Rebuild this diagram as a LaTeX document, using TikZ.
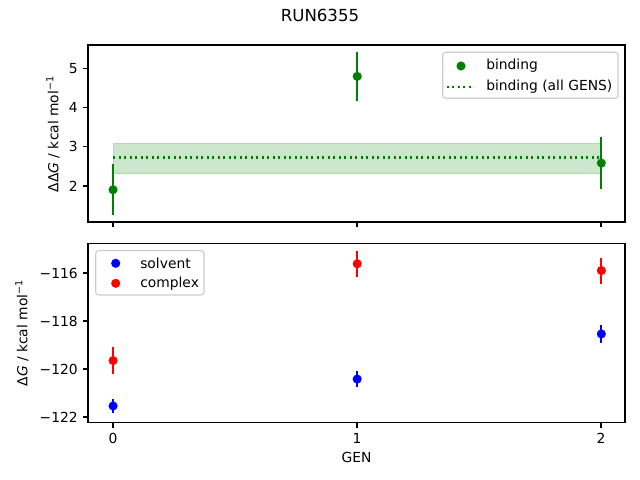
\documentclass[tikz,border=0pt]{standalone}
\usepackage{fontspec}
\setmainfont{DejaVu Sans}
\definecolor{mplgreen}{RGB}{0,128,0}
\definecolor{mplblue}{RGB}{0,0,255}
\definecolor{mplred}{RGB}{255,0,0}
\definecolor{bandfill}{RGB}{204,230,204}
\definecolor{bandedge}{RGB}{178,216,178}
\definecolor{legendedge}{RGB}{204,204,204}
\tikzset{
  axisframe/.style={line width=0.8pt},
  tickmark/.style={line width=0.8pt},
  ticklabel/.style={inner sep=0pt,font=\fontsize{10}{12}\selectfont},
  errbar/.style={line width=1.5pt},
  dotline/.style={line width=1.5pt,dash pattern=on 1.5pt off 2.475pt},
  legendbox/.style={draw=legendedge,fill=white,rounded corners=2pt,line width=0.8pt},
}
\begin{document}
\begin{tikzpicture}[x=0.01in,y=0.01in]
                \useasboundingbox (0,0) rectangle (640,480);
                \node (title) at (320,465) {\fontsize{12}{14}\selectfont RUN6355};
                % top panel
                \begin{scope}[xshift=1.13in,yshift=2.156in,x=2.44in,y=0.392in]
                    \fill[bandfill] (0,2.324) rectangle (2,3.089);
                    \draw[bandedge,line width=0.6pt] (0,2.324) rectangle (2,3.089);
                    \draw[mplgreen,dotline] (0,2.722) -- (2,2.722);
                    \foreach \g/\v/\e in {0/1.90/0.65,1/4.79/0.62,2/2.58/0.66}{
                        \draw[mplgreen,errbar] (\g,\v-\e) -- (\g,\v+\e);
                        \fill[mplgreen] (\g,\v) circle[radius=3.3pt];
                    }
                \end{scope}
                \draw[axisframe] (88,258) rectangle (625,435);
                \foreach \v in {2,3,4,5}{
                    \draw[tickmark] (88,{215.6+39.2*\v}) -- ++(-4.86,0) node[ticklabel,anchor=east,xshift=-3.5pt] {\v};
                }
                \foreach \x in {113,357,601}{
                    \draw[tickmark] (\x,258) -- ++(0,-4.86);
                }
                \node[rotate=90,font=\fontsize{10}{12}\selectfont] (ddglabel) at (53,346) {ΔΔ\textit{G} / kcal mol\textsuperscript{−1}};
                \draw[legendbox] (442.7,381.7) rectangle (618,427.7);
                \fill[mplgreen] (461,414) circle[radius=3.3pt];
                \node[ticklabel,anchor=west] (bindlabel) at (486,414) {binding};
                \draw[mplgreen,dotline] (446.7,393.3) -- (474,393.3);
                \node[ticklabel,anchor=west] (alllabel) at (486,393.3) {binding (all GENS)};
                % bottom panel
                \begin{scope}[xshift=1.13in,yshift=29.91in,x=2.44in,y=0.24in]
                    \foreach \g/\v/\e in {0/-121.54/0.29,1/-120.42/0.33,2/-118.54/0.37}{
                        \draw[mplblue,errbar] (\g,\v-\e) -- (\g,\v+\e);
                        \fill[mplblue] (\g,\v) circle[radius=3.3pt];
                    }
                    \foreach \g/\v/\e in {0/-119.65/0.56,1/-115.62/0.54,2/-115.90/0.54}{
                        \draw[mplred,errbar] (\g,\v-\e) -- (\g,\v+\e);
                        \fill[mplred] (\g,\v) circle[radius=3.3pt];
                    }
                \end{scope}
                \draw[axisframe] (88,57.3) rectangle (625,236.7);
                \foreach \v in {116,118,120,122}{
                    \draw[tickmark] (88,{111-(\v-120)*24}) -- ++(-4.86,0) node[ticklabel,anchor=east,xshift=-3.5pt] {−\v};
                }
                \foreach \x/\n in {113/0,357/1,601/2}{
                    \draw[tickmark] (\x,57.3) -- ++(0,-4.86) node[ticklabel,anchor=north,yshift=-3.5pt] {\n};
                }
                \node[font=\fontsize{10}{12}\selectfont] (genlabel) at (356.5,23) {GEN};
                \node[rotate=90,font=\fontsize{10}{12}\selectfont] (dglabel) at (22,147) {Δ\textit{G} / kcal mol\textsuperscript{−1}};
                \draw[legendbox] (95.7,185) rectangle (204,229.3);
                \fill[mplblue] (115.7,216.7) circle[radius=3.3pt];
                \node[ticklabel,anchor=west] (solvlabel) at (140,216.7) {solvent};
                \fill[mplred] (115.7,196.7) circle[radius=3.3pt];
                \node[ticklabel,anchor=west] (complabel) at (140,196.7) {complex};
            \end{tikzpicture}
\end{document}
